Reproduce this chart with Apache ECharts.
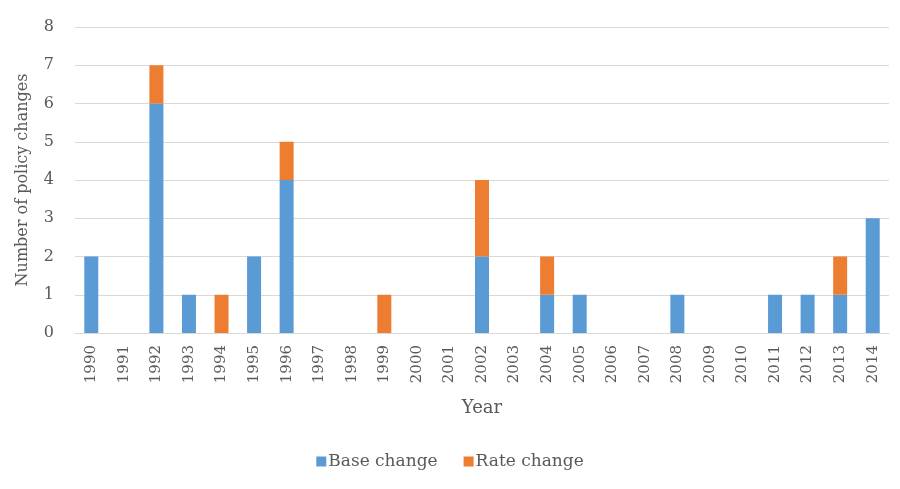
<!DOCTYPE html>
<html>
<head>
<meta charset="utf-8">
<style>
  html, body { margin: 0; padding: 0; background: #fff; }
  #chart { width: 900px; height: 489px; }
</style>
<script src="https://cdn.jsdelivr.net/npm/echarts@6/dist/echarts.min.js"></script>
</head>
<body>
<div id="chart"></div>
<script>
// Policy changes per year, split by type
const years = ['1990','1991','1992','1993','1994','1995','1996','1997','1998','1999','2000','2001','2002',
               '2003','2004','2005','2006','2007','2008','2009','2010','2011','2012','2013','2014'];
const baseChange = [2,0,6,1,0,2,4,0,0,0,0,0,2,0,1,1,0,0,1,0,0,1,1,1,3];
const rateChange = [0,0,1,0,1,0,1,0,0,1,0,0,2,0,1,0,0,0,0,0,0,0,0,1,0];
const yTicks = [0,1,2,3,4,5,6,7,8];

const font = '"DejaVu Serif", "Liberation Serif", serif';
const textColor = '#595959';

const chart = echarts.init(document.getElementById('chart'), null, { renderer: 'canvas' });
chart.setOption({
  animation: false,
  textStyle: { fontFamily: font },
  grid: { left: 75, right: 11, top: 27, bottom: 156, containLabel: false },
  legend: {
    data: ['Base change', 'Rate change'],
    bottom: 14,
    left: 'center',
    itemWidth: 10, itemHeight: 10, itemGap: 26,
    icon: 'rect',
    textStyle: { fontFamily: font, fontSize: 17, color: textColor, padding: [0, 0, 0, -3] }
  },
  xAxis: {
    type: 'category',
    data: years,
    name: 'Year',
    nameLocation: 'middle',
    nameGap: 66,
    nameTextStyle: { fontFamily: font, fontSize: 18, color: textColor },
    axisLine: { lineStyle: { color: '#d9d9d9' } },
    axisTick: { show: false },
    axisLabel: { rotate: 90, fontFamily: font, fontSize: 15, color: textColor, margin: 12, interval: 0 }
  },
  yAxis: {
    type: 'value',
    min: yTicks[0], max: yTicks[yTicks.length - 1], interval: 1,
    name: 'Number of policy changes',
    nameLocation: 'middle',
    nameGap: 44,
    nameTextStyle: { fontFamily: font, fontSize: 16, color: textColor },
    axisLine: { show: false },
    axisTick: { show: false },
    axisLabel: { fontFamily: font, fontSize: 16, color: textColor, margin: 21 },
    splitLine: { lineStyle: { color: '#d9d9d9' } }
  },
  series: [
    {
      name: 'Base change', type: 'bar', stack: 'total', barWidth: 14,
      itemStyle: { color: '#5B9BD5' },
      data: baseChange
    },
    {
      name: 'Rate change', type: 'bar', stack: 'total', barWidth: 14,
      itemStyle: { color: '#ED7D31' },
      data: rateChange
    }
  ]
});
</script>
</body>
</html>
